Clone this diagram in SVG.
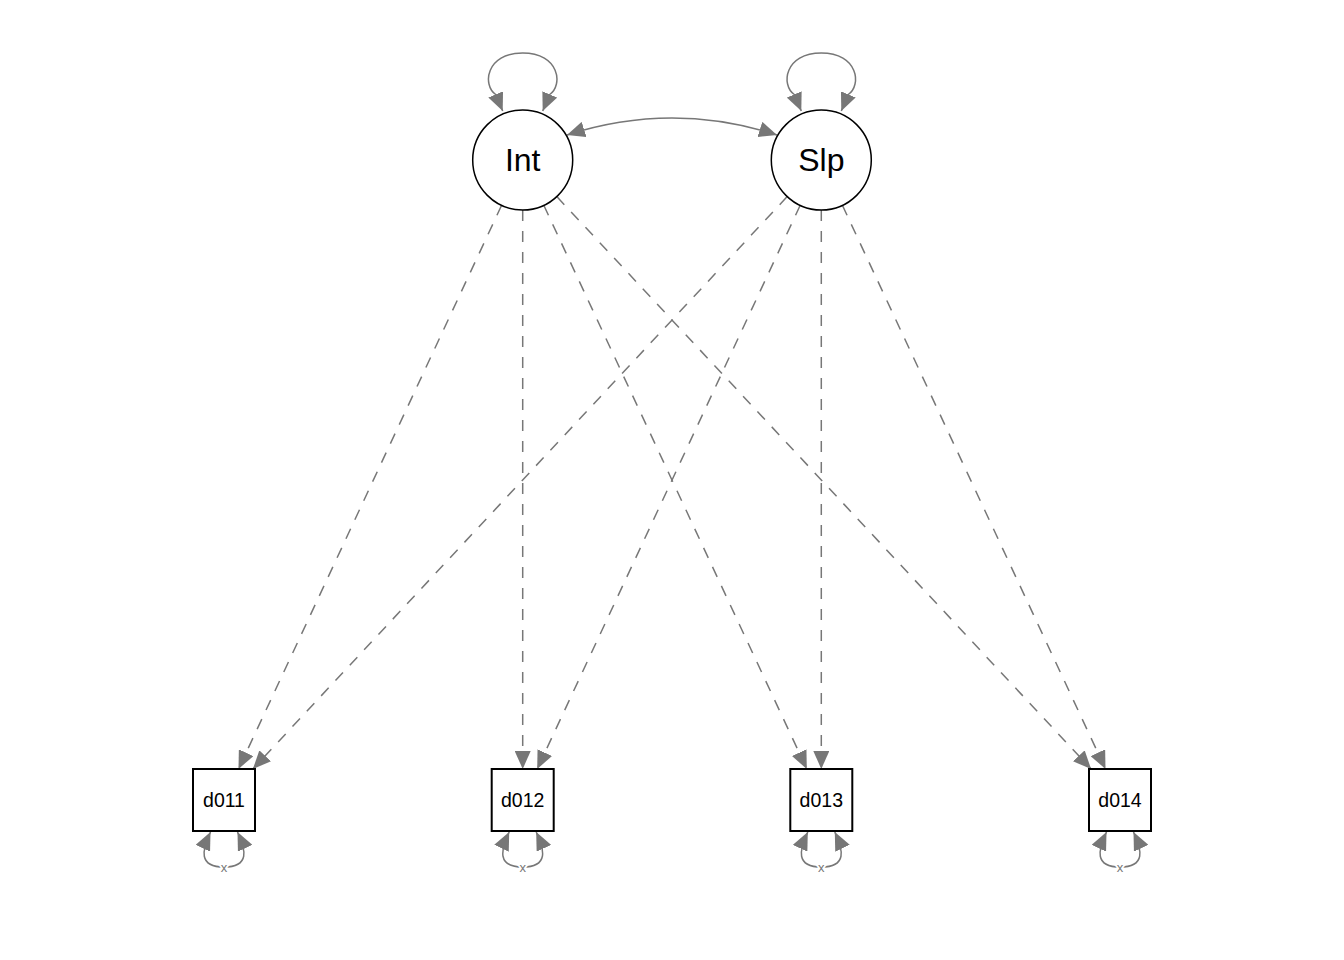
<svg xmlns="http://www.w3.org/2000/svg" width="1344" height="960" viewBox="0 0 1344 960">
<style>
.edge{fill:none;stroke:#777777;stroke-width:1.5;marker-end:url(#ah)}
.dash{stroke-dasharray:11 10}
.both{marker-start:url(#ah)}
.lat{fill:#ffffff;stroke:#000000;stroke-width:1.5}
.man{fill:#ffffff;stroke:#000000;stroke-width:2}
.lbl{font-family:"Liberation Sans",Arial,sans-serif;fill:#000000;text-anchor:middle}
.big{font-size:32px}
.small{font-size:19.5px}
.elab{font-family:"Liberation Sans",Arial,sans-serif;font-size:13px;fill:#777777;text-anchor:middle;stroke:#ffffff;stroke-width:4;paint-order:stroke}
</style>
<defs>
<marker id="ah" viewBox="0 0 18 16" refX="18" refY="8" markerWidth="18" markerHeight="16" markerUnits="userSpaceOnUse" orient="auto-start-reverse">
<path d="M0,0 L18,8 L0,16 Z" fill="#777777"/>
</marker>
</defs>
<rect width="1344" height="960" fill="#ffffff"/>
<g id="connectors">
<!-- latent variances -->
<path class="edge both" d="M502.7,111 L495.7,94.5 C482,85 486,53 522.7,53 C559.4,53 563.4,85 549.7,94.5 L542.7,111"/>
<path class="edge both" d="M801.3,111 L794.3,94.5 C780.6,85 784.6,53 821.3,53 C858,53 862,85 848.3,94.5 L841.3,111"/>
<!-- covariance -->
<path class="edge both" d="M567,135 Q672,101 777,135"/>
<!-- loadings -->
<path class="edge dash" d="M501.6,205.3 L238.5,769"/>
<path class="edge dash" d="M522.7,210 L522.7,769"/>
<path class="edge dash" d="M543.8,205.3 L806.8,769"/>
<path class="edge dash" d="M556.8,196.6 L1091.1,769"/>
<path class="edge dash" d="M787.2,196.6 L252.9,769"/>
<path class="edge dash" d="M800.2,205.3 L537.2,769"/>
<path class="edge dash" d="M821.3,210 L821.3,769"/>
<path class="edge dash" d="M842.4,205.3 L1105.5,769"/>
<!-- residuals -->
<path class="edge both" d="M210.5,832 C202,850 198,867 224,867 C250,867 246,850 237.5,832"/>
<path class="edge both" d="M509.2,832 C500.7,850 496.7,867 522.7,867 C548.7,867 544.7,850 536.2,832"/>
<path class="edge both" d="M807.8,832 C799.3,850 795.3,867 821.3,867 C847.3,867 843.3,850 834.8,832"/>
<path class="edge both" d="M1106.5,832 C1098,850 1094,867 1120,867 C1146,867 1142,850 1133.5,832"/>
<text class="elab" x="224" y="872">x</text>
<text class="elab" x="522.7" y="872">x</text>
<text class="elab" x="821.3" y="872">x</text>
<text class="elab" x="1120" y="872">x</text>
</g>
<g id="Int">
<circle class="lat" cx="522.7" cy="160" r="50"/>
<text class="lbl big" x="522.7" y="171">Int</text>
</g>
<g id="Slp">
<circle class="lat" cx="821.3" cy="160" r="50"/>
<text class="lbl big" x="821.3" y="171">Slp</text>
</g>
<g id="d011">
<rect class="man" x="193" y="769" width="62" height="62"/>
<text class="lbl small" x="224" y="807">d011</text>
</g>
<g id="d012">
<rect class="man" x="491.7" y="769" width="62" height="62"/>
<text class="lbl small" x="522.7" y="807">d012</text>
</g>
<g id="d013">
<rect class="man" x="790.3" y="769" width="62" height="62"/>
<text class="lbl small" x="821.3" y="807">d013</text>
</g>
<g id="d014">
<rect class="man" x="1089" y="769" width="62" height="62"/>
<text class="lbl small" x="1120" y="807">d014</text>
</g>
</svg>
